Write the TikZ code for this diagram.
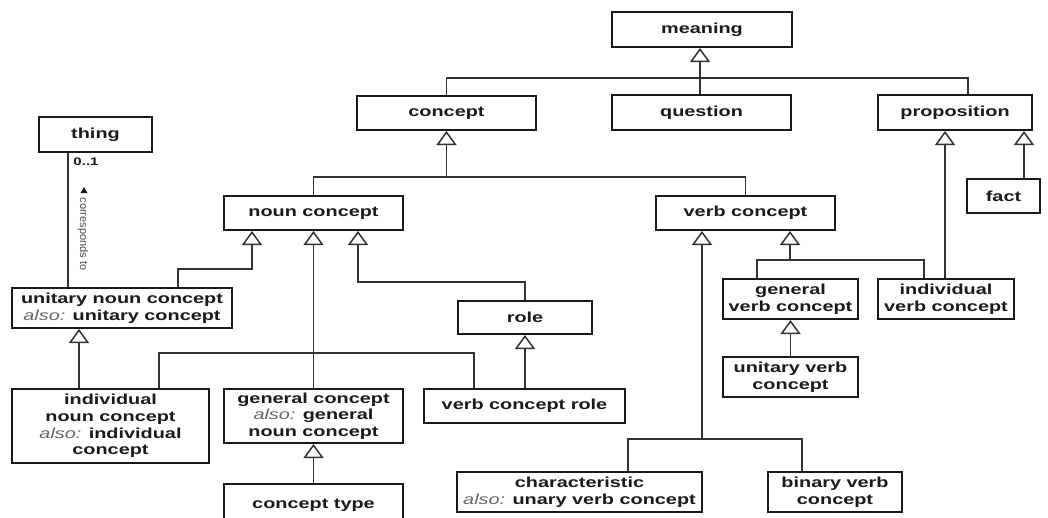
\documentclass[tikz,border=0pt]{standalone}
\usepackage{fontspec}
\setmainfont{Liberation Sans}[FakeStretch=1.37]
\newfontfamily\labelfont{Liberation Sans}
\usetikzlibrary{arrows.meta}
\definecolor{ink}{HTML}{1A1A1A}
\definecolor{wire}{HTML}{333333}
\newcommand{\alsotag}{{\mdseries\itshape\color{black!60}also:}}

\begin{document}
\begin{tikzpicture}[x=1pt,y=-1pt,
  cls/.style={draw=ink, line width=2pt, fill=white, inner sep=0pt,
    align=center, text=ink, font=\bfseries\fontsize{14.5}{16.7}\selectfont},
  link/.style={draw=wire, line width=1.6pt},
  gen/.style={link, -{Triangle[open, length=14pt, width=20pt, line width=1.5pt]}},
]
\clip (0,0) rectangle (1048,517);
\fill[white] (0,0) rectangle (1048,517);

% classes
\node[cls, minimum width=180pt, minimum height=35pt] (meaning) at (702,29.5) {meaning};
\node[cls, minimum width=179pt, minimum height=34pt] (concept) at (446.5,113) {concept};
\node[cls, minimum width=179pt, minimum height=35pt] (question) at (701.5,112.5) {question};
\node[cls, minimum width=154pt, minimum height=35pt] (prop) at (955,112.5) {proposition};
\node[cls, minimum width=73pt, minimum height=34pt] (fact) at (1003.5,196) {fact};
\node[cls, minimum width=113pt, minimum height=35pt] (thing) at (95.5,134.5) {thing};
\node[cls, minimum width=179pt, minimum height=34pt] (nounc) at (313.5,213) {noun concept};
\node[cls, minimum width=179pt, minimum height=34pt] (verbc) at (745.5,213) {verb concept};
\node[cls, minimum width=220pt, minimum height=40pt] (unc) at (122,308) {unitary noun concept\\\alsotag{} unitary concept};
\node[cls, minimum width=134pt, minimum height=33pt] (role) at (525,317.5) {role};
\node[cls, minimum width=135pt, minimum height=40pt] (gvc) at (790.5,299) {general\\verb concept};
\node[cls, minimum width=136pt, minimum height=40pt] (ivc) at (946,299) {individual\\verb concept};
\node[cls, minimum width=135pt, minimum height=40pt] (uvc) at (790.5,377) {unitary verb\\concept};
\node[cls, minimum width=197pt, minimum height=74pt] (inc) at (110.5,426) {individual\\noun concept\\\alsotag{} individual\\concept};
\node[cls, minimum width=179pt, minimum height=54pt] (gc) at (313.5,416) {general concept\\\alsotag{} general\\noun concept};
\node[cls, minimum width=201pt, minimum height=34pt] (vcr) at (524.5,406) {verb concept role};
\node[cls, minimum width=245pt, minimum height=40pt] (char) at (579.5,492) {characteristic\\\alsotag{} unary verb concept};
\node[cls, minimum width=134pt, minimum height=40pt] (bvc) at (835,492) {binary verb\\concept};
\node[cls, minimum width=179pt, minimum height=42pt] (ct) at (313.5,505) {concept type};

% meaning
\coordinate (mj) at (700,78);
\draw[gen] (mj) -- (meaning.south -| mj);
\draw[link] (concept.north) |- (968,78) -- (prop.north -| 968,0);
\draw[link] (question.north -| mj) -- (mj);

% concept
\coordinate (cj) at (446.5,177);
\draw[gen] (cj) -- (concept.south);
\draw[link] (nounc.north) |- (cj) -| (verbc.north);

% noun concept
\draw[gen] (unc.north -| 178,0) |- (252,269) -- (nounc.south -| 252,0);
\draw[gen] (gc.north) -- (nounc.south);
\draw[link] (inc.north -| 159,0) -- (159,353) -- (474,353) -- (vcr.north -| 474,0);
\draw[gen] (role.north) |- (358,282) -- (nounc.south -| 358,0);

% role, unitary noun concept, general concept
\draw[gen] (vcr.north -| role.south) -- (role.south);
\draw[gen] (inc.north -| 79,0) -- (unc.south -| 79,0);
\draw[gen] (ct.north) -- (gc.south);

% verb concept
\coordinate (vj) at (702,439);
\draw[gen] (vj) -- (verbc.south -| vj);
\draw[link] (char.north -| 628,0) |- (vj) -| (bvc.north -| 802,0);
\coordinate (vr) at (790,260);
\draw[gen] (vr) -- (verbc.south -| vr);
\draw[link] (gvc.north -| 757,0) |- (vr) -| (ivc.north -| 924,0);
\draw[gen] (uvc.north) -- (gvc.south);

% proposition
\draw[gen] (ivc.north -| 945,0) -- (prop.south -| 945,0);
\draw[gen] (fact.north -| 1024,0) -- (prop.south -| 1024,0);

% association thing -- unitary noun concept
\draw[link, line width=1.3pt] (thing.south -| 68,0) -- (unc.north -| 68,0);
\node[text=ink, font=\bfseries\fontsize{11}{13}\selectfont, inner sep=0pt] (mult) at (86,162) {0..1};
\node[rotate=-90, text=black!70, font=\labelfont\fontsize{11}{13}\selectfont, inner sep=0pt] (assoc) at (83,234) {corresponds to};
\fill[ink] (80.5,193) -- (87.5,193) -- (84,187) -- cycle;
\end{tikzpicture}
\end{document}
